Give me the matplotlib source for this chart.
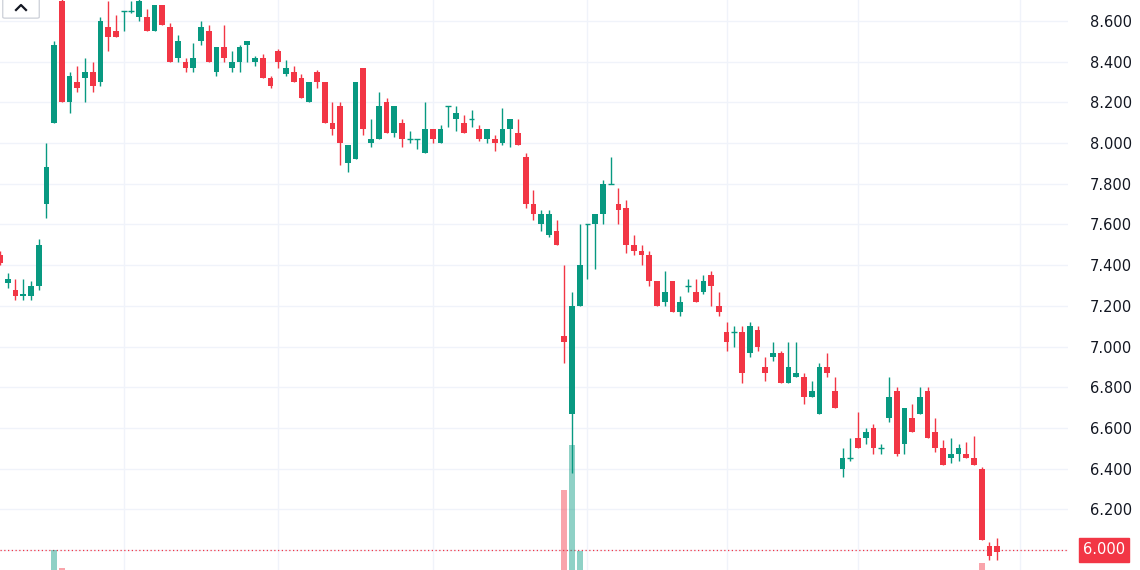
import matplotlib
matplotlib.use("Agg")
import matplotlib.pyplot as plt
from matplotlib.patches import FancyBboxPatch
from matplotlib.lines import Line2D

opens = [7.45,7.31,7.28,7.25,7.25,7.30,7.70,8.10,8.70,8.20,8.30,8.32,8.35,8.30,8.57,8.55,8.65,8.65,8.62,8.62,
         8.55,8.68,8.57,8.42,8.40,8.37,8.50,8.55,8.35,8.47,8.37,8.40,8.48,8.40,8.42,8.32,8.45,8.34,8.35,8.32,
         8.20,8.35,8.30,8.10,8.18,7.90,7.92,8.37,8.00,8.02,8.20,8.05,8.10,8.02,8.02,7.95,8.07,8.00,8.18,8.12,
         8.10,8.12,8.07,8.02,8.02,8.00,8.07,8.05,7.93,7.70,7.60,7.55,7.57,7.05,6.67,7.20,7.60,7.60,7.65,7.80,
         7.70,7.68,7.50,7.47,7.45,7.32,7.22,7.32,7.17,7.30,7.27,7.27,7.35,7.20,7.07,7.07,7.07,6.97,7.08,6.90,
         6.95,6.97,6.82,6.85,6.85,6.75,6.67,6.90,6.78,6.40,6.45,6.55,6.55,6.60,6.50,6.65,6.78,6.52,6.65,6.67,
         6.78,6.58,6.50,6.45,6.47,6.47,6.45,6.40,6.02,6.02]
closes = [7.41,7.33,7.25,7.26,7.30,7.50,7.88,8.48,8.20,8.33,8.27,8.35,8.28,8.60,8.52,8.52,8.65,8.65,8.70,8.55,
          8.68,8.58,8.40,8.50,8.37,8.42,8.57,8.40,8.47,8.42,8.40,8.47,8.50,8.42,8.32,8.28,8.40,8.37,8.30,8.22,
          8.30,8.30,8.10,8.07,8.00,7.99,8.30,8.07,8.02,8.18,8.05,8.18,8.02,8.02,8.02,8.07,8.02,8.07,8.18,8.15,
          8.05,8.12,8.02,8.07,8.00,8.07,8.12,7.99,7.70,7.65,7.65,7.65,7.50,7.02,7.20,7.40,7.60,7.65,7.80,7.80,
          7.67,7.50,7.47,7.45,7.32,7.20,7.27,7.17,7.22,7.30,7.22,7.32,7.30,7.17,7.02,7.07,6.87,7.10,7.00,6.87,
          6.97,6.82,6.90,6.87,6.75,6.78,6.90,6.87,6.70,6.45,6.45,6.50,6.58,6.50,6.50,6.75,6.47,6.70,6.58,6.75,
          6.55,6.50,6.42,6.47,6.50,6.45,6.42,6.05,5.97,5.99]
highs = [7.47,7.36,7.33,7.33,7.32,7.53,8.00,8.50,8.72,8.35,8.38,8.42,8.40,8.62,8.70,8.63,8.65,8.70,8.72,8.66,
         8.68,8.68,8.59,8.53,8.42,8.49,8.60,8.58,8.47,8.58,8.45,8.48,8.50,8.43,8.44,8.33,8.46,8.41,8.38,8.34,
         8.30,8.36,8.30,8.20,8.20,7.99,8.30,8.37,8.12,8.25,8.22,8.18,8.12,8.06,8.02,8.20,8.07,8.09,8.18,8.18,
         8.14,8.16,8.09,8.07,8.04,8.17,8.12,8.12,7.95,7.77,7.67,7.67,7.62,7.40,7.27,7.60,7.60,7.65,7.82,7.93,
         7.78,7.72,7.55,7.50,7.47,7.32,7.37,7.32,7.25,7.33,7.33,7.35,7.37,7.27,7.12,7.10,7.10,7.12,7.10,6.95,
         7.02,6.98,7.02,7.02,6.87,6.83,6.92,6.97,6.85,6.50,6.55,6.68,6.60,6.62,6.52,6.85,6.80,6.70,6.72,6.80,
         6.80,6.65,6.54,6.55,6.52,6.53,6.56,6.41,6.04,6.06]
lows = [7.40,7.29,7.23,7.23,7.23,7.28,7.63,8.10,8.20,8.15,8.25,8.20,8.25,8.28,8.45,8.52,8.55,8.64,8.60,8.55,
        8.55,8.58,8.40,8.40,8.35,8.35,8.48,8.40,8.33,8.40,8.35,8.35,8.40,8.38,8.32,8.27,8.37,8.33,8.30,8.22,
        8.20,8.27,8.10,8.04,7.89,7.86,7.92,8.04,7.98,8.02,8.05,8.03,7.98,8.00,7.97,7.95,8.00,8.00,8.08,8.06,
        8.05,8.08,8.01,8.00,7.96,7.99,7.98,7.99,7.68,7.62,7.57,7.54,7.50,6.92,6.38,7.20,7.33,7.38,7.60,7.80,
        7.60,7.46,7.45,7.40,7.30,7.20,7.20,7.17,7.15,7.27,7.22,7.26,7.20,7.15,6.98,7.00,6.82,6.95,6.98,6.83,
        6.93,6.82,6.82,6.85,6.72,6.75,6.67,6.85,6.70,6.36,6.44,6.50,6.52,6.47,6.47,6.63,6.46,6.47,6.58,6.67,
        6.55,6.48,6.42,6.43,6.44,6.45,6.42,6.05,5.95,5.95]
# volume (only the tallest bars reach into view)
volumes = {7: 3.5, 8: 0.4, 73: 14.0, 74: 22.0, 75: 3.3, 127: 1.2}
vgrid_idx = [16, 36, 56, 76, 94, 111, 132]
yticks = [6.2, 6.4, 6.6, 6.8, 7.0, 7.2, 7.4, 7.6, 7.8, 8.0, 8.2, 8.4, 8.6]
last_price = 6.0

UP, DN = "#089981", "#F23645"
fig = plt.figure(figsize=(11.4, 5.7), dpi=100)
ax = fig.add_axes([0, 0, 1068/1140, 1])
ax.set_xlim(0, 1068/7.73)
ax.set_ylim(5.902, 8.703)
for i, (o, c, h, l) in enumerate(zip(opens, closes, highs, lows)):
    col = UP if c >= o else DN
    ax.vlines(i, l, h, color=col, lw=1, zorder=3)
    lo, hi = min(o, c), max(o, c)
    if hi - lo < 0.008:
        ax.hlines(o, i - 0.38, i + 0.38, color=col, lw=1, zorder=3)
    else:
        ax.bar(i, hi - lo, bottom=lo, width=0.74, color=col, zorder=4, lw=0)
vax = ax.twinx()
vax.set_ylim(0, 100)
for i, v in volumes.items():
    col = UP if closes[i] >= opens[i] else DN
    vax.bar(i, v, width=0.74, color=col, alpha=0.45, lw=0)
vax.set_yticks([])
for s in vax.spines.values():
    s.set_visible(False)
for s in ax.spines.values():
    s.set_visible(False)
for y in yticks + [6.0]:
    ax.axhline(y, color="#f0f3fa", lw=1, zorder=0)
for xg in vgrid_idx:
    ax.axvline(xg, color="#f0f3fa", lw=1, zorder=0)
ax.axhline(last_price, color=DN, lw=0.9, ls=(0, (1, 2)), zorder=2)
ax.set_xticks([])
ax.yaxis.tick_right()
ax.set_yticks(yticks)
ax.set_yticklabels([f"{t:.3f}" for t in yticks], fontsize=10.5, color="#131722")
ax.tick_params(axis="y", length=0, pad=16)
fig.text(1125/1140, 1 - 550/570, f"{last_price:.3f}", ha="right", va="center", fontsize=10.5,
         color="white", bbox=dict(boxstyle="square,pad=0.3", fc=DN, ec=DN))
box = FancyBboxPatch((5/1140, 1 - 17/570), 32/1140, 22/570, boxstyle="round,pad=0.002",
                     transform=fig.transFigure, fc="white", ec="#d1d4dc", lw=1)
fig.patches.append(box)
fig.lines.append(Line2D([16/1140, 21/1140, 26/1140], [1 - 10/570, 1 - 5/570, 1 - 10/570],
                        transform=fig.transFigure, color="#131722", lw=1.6))
fig.savefig("out.png", dpi=100)
